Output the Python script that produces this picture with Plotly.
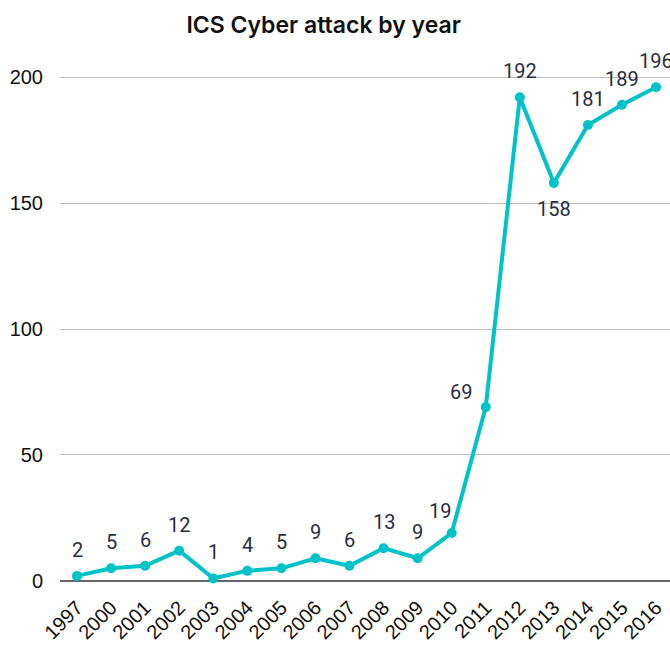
import plotly.graph_objects as go

years = ["1997", "2000", "2001", "2002", "2003", "2004", "2005", "2006", "2007", "2008",
         "2009", "2010", "2011", "2012", "2013", "2014", "2015", "2016"]
attacks = [2, 5, 6, 12, 1, 4, 5, 9, 6, 13, 9, 19, 69, 192, 158, 181, 189, 196]
y_ticks = [0, 50, 100, 150, 200]

LINE = "#00c2c9"
LABEL = "#2a2d40"

fig = go.Figure()
fig.add_trace(go.Scatter(
    x=list(range(len(years))), y=attacks, mode="lines+markers",
    line=dict(color=LINE, width=4),
    marker=dict(color=LINE, size=10),
    hoverinfo="skip", showlegend=False,
))

annotations = []
for i, (yr, v) in enumerate(zip(years, attacks)):
    xs, ys = 0, 26
    if yr == "2013":
        ys = -26
    elif yr == "2011":
        xs, ys = -25, 15
    elif yr == "2010":
        xs, ys = -12, 22
    annotations.append(dict(x=i, y=v, xref="x", yref="y", text=str(v), showarrow=False,
                            xshift=xs, yshift=ys,
                            font=dict(family="Roboto", size=20, color=LABEL)))

fig.update_layout(
    width=670, height=648,
    margin=dict(l=60, r=0, t=62, b=57),
    paper_bgcolor="white", plot_bgcolor="white",
    title=dict(text="ICS Cyber attack by year", x=0.483, xanchor="center", y=0.962, yanchor="middle",
               font=dict(family="Inter", size=23, color="#111", weight=600)),
    annotations=annotations,
    xaxis=dict(
        tickmode="array", tickvals=list(range(len(years))), ticktext=years,
        range=[-0.5, 17.41], tickangle=-45, showgrid=False, zeroline=False,
        showline=False, ticks="", automargin=False,
        tickfont=dict(family="Liberation Sans", size=20, color="#111"),
    ),
    yaxis=dict(
        range=[-4, 206], tickvals=y_ticks, showgrid=True, gridcolor="#bdbdbd", gridwidth=1,
        zeroline=True, zerolinecolor="#666", zerolinewidth=1.5, showline=False, ticks="",
        automargin=False, ticklabelstandoff=16,
        tickfont=dict(family="Liberation Sans", size=20, color="#111"),
    ),
)

fig.write_html("out.html", config={"displayModeBar": False},
               post_script="document.body.style.margin='0';")
